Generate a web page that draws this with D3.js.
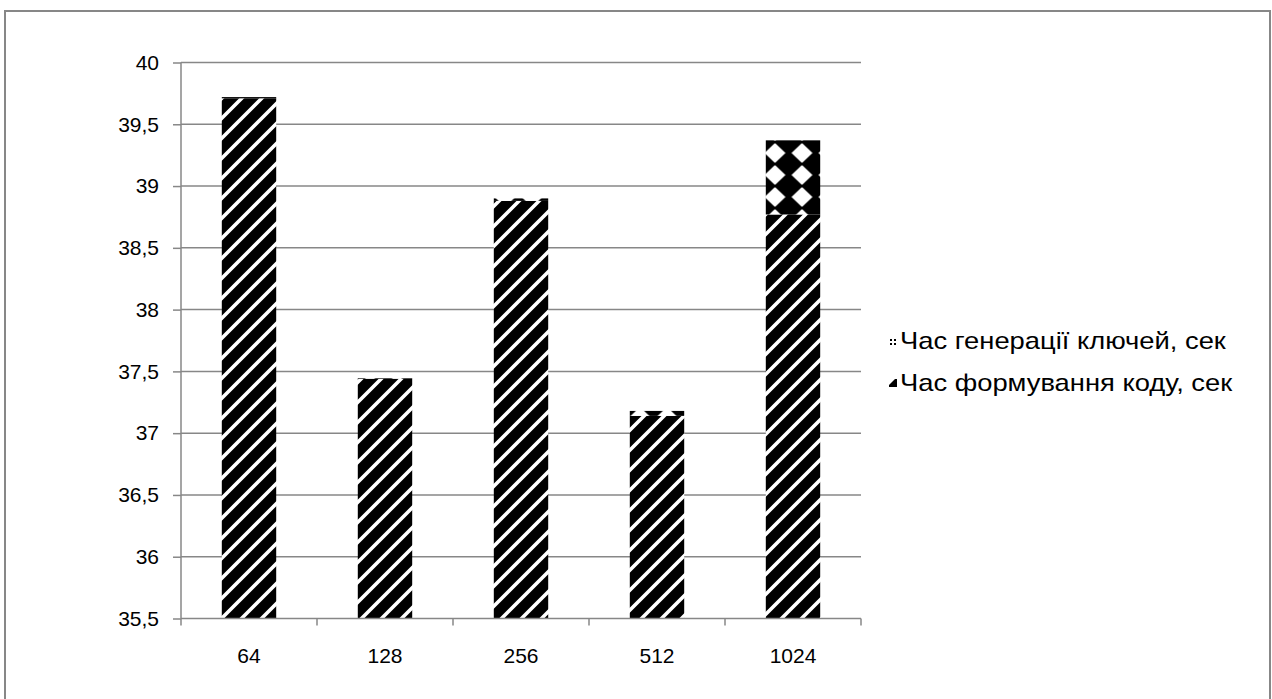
<!DOCTYPE html>
<html>
<head>
<meta charset="utf-8">
<script src="https://cdn.jsdelivr.net/npm/d3@7"></script>
<style>
  html, body { margin: 0; padding: 0; background: #fff; }
  svg { display: block; }
  text { font-family: "Liberation Sans", Arial, sans-serif; fill: #000; }
</style>
</head>
<body>
<svg id="chart" width="1272" height="699"></svg>
<script>
// Key sizes (bits) on the x axis
const categories = ["64", "128", "256", "512", "1024"];
// Code generation time, seconds
const codeTime = [39.71, 37.44, 38.88, 37.14, 38.77];
// Key generation time, seconds
const keyTime = [0.01, 0.005, 0.02, 0.04, 0.60];
// Value axis ticks
const yTicks = [35.5, 36, 36.5, 37, 37.5, 38, 38.5, 39, 39.5, 40];
// Legend labels
const seriesNames = ["Час генерації ключей, сек", "Час формування коду, сек"];

const svg = d3.select("#chart");
const W = 1272, H = 699;
const plot = { left: 181, right: 861, top: 62.5, bottom: 618.5 };
const grid = "#878787";
const fontSize = 21;

// Chart frame
svg.append("rect")
  .attr("x", 5).attr("y", 11)
  .attr("width", W - 7).attr("height", H + 10)
  .attr("fill", "#fff").attr("stroke", grid).attr("stroke-width", 2);

// Fill patterns
const defs = svg.append("defs");
const stripes = defs.append("pattern")
  .attr("id", "stripes").attr("patternUnits", "userSpaceOnUse")
  .attr("width", 20).attr("height", 20);
stripes.append("rect").attr("width", 20).attr("height", 20).attr("fill", "#000");
stripes.append("path")
  .attr("d", "M-5,5 L5,-5 M0,20 L20,0 M15,25 L25,15")
  .attr("stroke", "#fff").attr("stroke-width", 3.6);

const diamonds = defs.append("pattern")
  .attr("id", "diamonds").attr("patternUnits", "userSpaceOnUse")
  .attr("x", 761.5).attr("y", 142)
  .attr("width", 27).attr("height", 22);
diamonds.append("rect").attr("width", 27).attr("height", 22).attr("fill", "#000");
diamonds.append("path")
  .attr("d", "M13.5,2 L23,11 L13.5,20 L4,11 Z")
  .attr("fill", "#fff").attr("stroke", "#fff").attr("stroke-width", 1.5)
  .attr("stroke-linejoin", "round");

// Small legend swatches
const keySwatch = defs.append("pattern")
  .attr("id", "keySwatch").attr("patternUnits", "userSpaceOnUse")
  .attr("x", 890).attr("y", 335)
  .attr("width", 4).attr("height", 4);
keySwatch.append("rect").attr("width", 4).attr("height", 4).attr("fill", "#fff");
keySwatch.append("rect").attr("width", 2).attr("height", 2).attr("fill", "#000");

const codeSwatch = defs.append("pattern")
  .attr("id", "codeSwatch").attr("patternUnits", "objectBoundingBox")
  .attr("width", 1).attr("height", 1);
codeSwatch.append("rect").attr("width", 8).attr("height", 8).attr("fill", "#000");
codeSwatch.append("path").attr("d", "M0,0 L6,0 L0,6 Z").attr("fill", "#fff");

// Scales
const x = d3.scaleBand().domain(categories)
  .range([plot.left, plot.right]).paddingInner(0.6).paddingOuter(0.3);
const y = d3.scaleLinear().domain([35.5, 40]).range([plot.bottom, plot.top]);

// Horizontal gridlines
svg.append("g").selectAll("line").data(yTicks.slice(1)).join("line")
  .attr("x1", plot.left).attr("x2", plot.right)
  .attr("y1", d => y(d)).attr("y2", d => y(d))
  .attr("stroke", grid).attr("stroke-width", 1.5);

// Stacked bars, clipped to the plot area
defs.append("clipPath").attr("id", "plotClip")
  .append("rect").attr("x", plot.left).attr("y", plot.top - 5)
  .attr("width", plot.right - plot.left).attr("height", plot.bottom - plot.top + 5);

const rows = categories.map((c, i) => ({ cat: c, code: codeTime[i], keys: keyTime[i] }));
const stack = d3.stack().keys(["code", "keys"])(rows);
const fills = { code: "url(#stripes)", keys: "url(#diamonds)" };

const bars = svg.append("g").attr("clip-path", "url(#plotClip)");
stack.forEach(layer => {
  bars.append("g").selectAll("rect").data(layer).join("rect")
    .attr("x", d => x(d.data.cat))
    .attr("width", x.bandwidth())
    .attr("y", d => y(d[1]))
    .attr("height", d => Math.max(0, y(Math.max(d[0], 35.5)) - y(d[1])))
    .attr("fill", fills[layer.key]);
});

// Y axis
const yAxis = d3.axisLeft(y).tickValues(yTicks).tickSize(8).tickPadding(14)
  .tickFormat(d => d3.format(".1~f")(d).replace(".", ","));
const gy = svg.append("g").attr("transform", `translate(${plot.left},0)`).call(yAxis);
gy.select(".domain").attr("stroke", grid).attr("stroke-width", 1.5).attr("d", `M0,${plot.top}V${plot.bottom}`);
gy.selectAll(".tick line").attr("stroke", grid).attr("stroke-width", 1.5);
gy.selectAll(".tick text").attr("font-size", fontSize).attr("font-family", "Liberation Sans, Arial, sans-serif");

// X axis with tick marks on category boundaries
const gx = svg.append("g").attr("transform", `translate(0,${plot.bottom})`);
gx.append("line").attr("x1", plot.left).attr("x2", plot.right)
  .attr("stroke", grid).attr("stroke-width", 1.5);
const step = x.step();
const bounds = d3.range(categories.length + 1).map(i => plot.left + i * step);
gx.selectAll(".bt").data(bounds).join("line").attr("class", "bt")
  .attr("x1", d => d).attr("x2", d => d).attr("y1", 0).attr("y2", 7)
  .attr("stroke", grid).attr("stroke-width", 1.5);
gx.selectAll(".lbl").data(categories).join("text").attr("class", "lbl")
  .attr("x", d => x(d) + x.bandwidth() / 2).attr("y", 44)
  .attr("text-anchor", "middle").attr("font-size", fontSize)
  .text(d => d);

// Legend
const legend = svg.append("g");
const swatches = ["url(#keySwatch)", "url(#codeSwatch)"];
seriesNames.forEach((name, i) => {
  const ly = 349 + i * 42;
  legend.append("rect").attr("x", 889).attr("y", ly - 12).attr("width", 8).attr("height", 8)
    .attr("fill", swatches[i]);
  legend.append("text")
    .attr("transform", `translate(900,${ly}) scale(1.14,1)`)
    .attr("font-size", 24).text(name);
});
</script>
</body>
</html>
